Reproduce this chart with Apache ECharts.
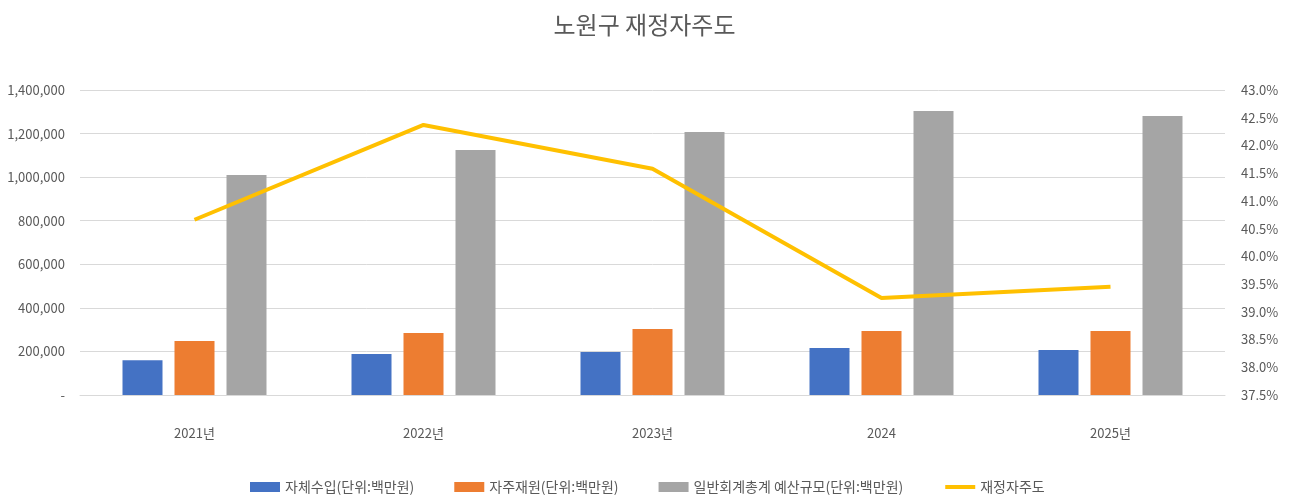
<!DOCTYPE html>
<html>
<head>
<meta charset="utf-8">
<script src="https://cdn.jsdelivr.net/npm/echarts@6/dist/echarts.min.js"></script>
<style>
  html, body { margin: 0; padding: 0; background: #fff; }
  #chart { width: 1289px; height: 503px; }
</style>
</head>
<body>
<div id="chart"></div>
<script>
const years = ["2021년", "2022년", "2023년", "2024", "2025년"];
const ownRevenue = [160000, 188000, 197000, 216000, 207000];
const independentFinance = [248000, 285000, 303000, 294000, 294000];
const generalBudget = [1010000, 1125000, 1207000, 1304000, 1281000];
const fiscalAutonomy = [40.66, 42.37, 41.58, 39.25, 39.45];

const chart = echarts.init(document.getElementById("chart"));
const font = "'Noto Sans CJK KR', 'Noto Sans', sans-serif";
const textGray = "#595959";

const option = {
  animation: false,
  textStyle: { fontFamily: font },
  title: {
    text: "노원구 재정자주도",
    left: "center",
    top: 8,
    textStyle: { fontFamily: font, fontSize: 24, fontWeight: "normal", color: textGray },
  },
  legend: {
    bottom: 4,
    left: 245,
    itemWidth: 30,
    itemHeight: 10,
    itemGap: 40,
    textStyle: { fontFamily: font, fontSize: 14, color: textGray },
    data: [
      { name: "자체수입(단위:백만원)", icon: "rect" },
      { name: "자주재원(단위:백만원)", icon: "rect" },
      { name: "일반회계총계 예산규모(단위:백만원)", icon: "rect" },
      { name: "재정자주도", itemStyle: { opacity: 0 }, lineStyle: { width: 4, color: "#ffc000" } },
    ],
  },
  grid: { left: 80, right: 64, top: 90, bottom: 108 },
  xAxis: {
    type: "category",
    data: years,
    axisLine: { lineStyle: { color: "#d9d9d9" } },
    axisTick: { show: false },
    axisLabel: { color: textGray, fontSize: 13, margin: 32 },
  },
  yAxis: [
    {
      type: "value",
      min: 0,
      max: 1400000,
      interval: 200000,
      axisLine: { show: false },
      axisTick: { show: false },
      splitLine: { lineStyle: { color: "#d9d9d9" } },
      axisLabel: {
        color: textGray,
        fontSize: 13,
        margin: 15,
        formatter: (v) => (v === 0 ? "-" : v.toLocaleString("en-US")),
      },
    },
    {
      type: "value",
      min: 37.5,
      max: 43,
      interval: 0.5,
      axisLine: { show: false },
      axisTick: { show: false },
      splitLine: { show: false },
      axisLabel: {
        color: textGray,
        fontSize: 13,
        margin: 16,
        formatter: (v) => v.toFixed(1) + "%",
      },
    },
  ],
  series: [
    {
      name: "자체수입(단위:백만원)",
      type: "bar",
      data: ownRevenue,
      barWidth: 40,
      barGap: "30%",
      itemStyle: { color: "#4472c4" },
    },
    {
      name: "자주재원(단위:백만원)",
      type: "bar",
      data: independentFinance,
      barWidth: 40,
      barGap: "30%",
      itemStyle: { color: "#ed7d31" },
    },
    {
      name: "일반회계총계 예산규모(단위:백만원)",
      type: "bar",
      data: generalBudget,
      barWidth: 40,
      barGap: "30%",
      itemStyle: { color: "#a5a5a5" },
    },
    {
      name: "재정자주도",
      type: "line",
      yAxisIndex: 1,
      data: fiscalAutonomy,
      symbol: "none",
      lineStyle: { color: "#ffc000", width: 4 },
      itemStyle: { color: "#ffc000" },
      z: 5,
    },
  ],
};

chart.setOption(option);
</script>
</body>
</html>
